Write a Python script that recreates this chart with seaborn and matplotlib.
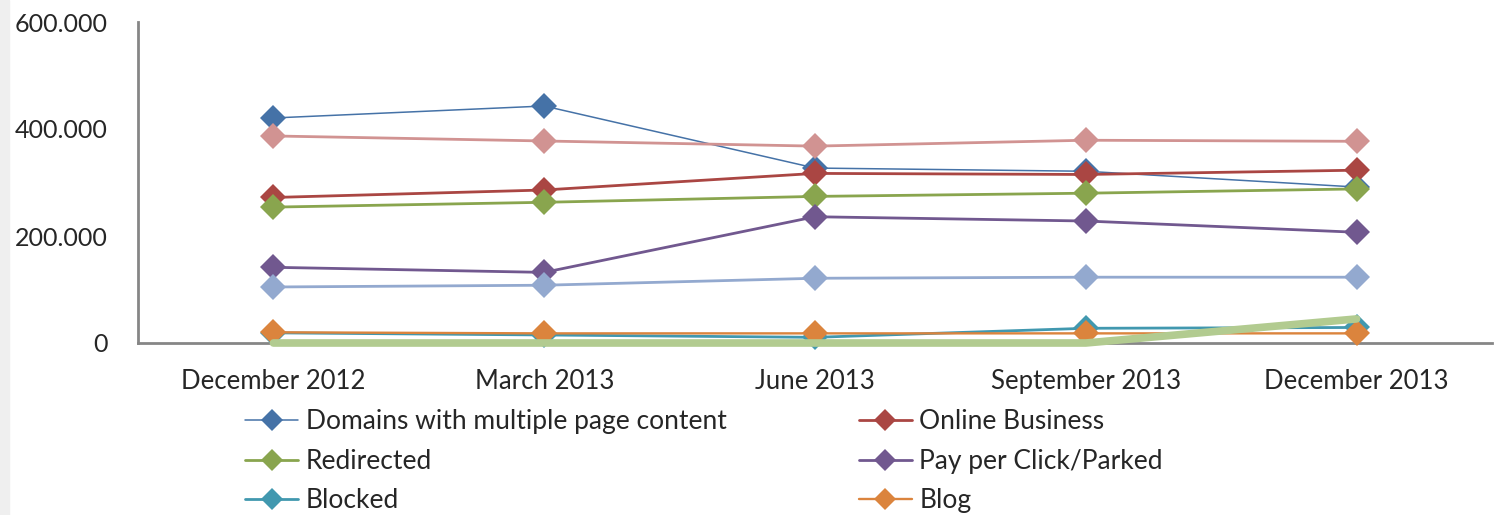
import matplotlib
matplotlib.use("Agg")
import matplotlib.pyplot as plt
import matplotlib.ticker as mticker
from matplotlib.lines import Line2D
from matplotlib.patches import Rectangle
import seaborn as sns

quarters = ["December 2012", "March 2013", "June 2013", "September 2013", "December 2013"]

domains_multi = [420600, 443000, 327000, 321000, 291500]
online_business = [272000, 286000, 317000, 315000, 323000]
redirected = [254000, 263000, 274000, 280000, 288000]
pay_per_click = [141500, 132000, 236000, 228000, 207000]
blocked = [19000, 15000, 10600, 27500, 29000]
blog = [20000, 18000, 18000, 18000, 18000]
series_lightblue = [104700, 108000, 121000, 123000, 123000]
series_pink = [387000, 377600, 368000, 379000, 377000]
series_lightgreen = [0, 0, 0, 0, 45000]

legend_labels = ["Domains with multiple page content", "Online Business", "Redirected",
                 "Pay per Click/Parked", "Blocked", "Blog"]

sns.set_style("white")
plt.rcParams["font.family"] = ["Lato", "DejaVu Sans"]

fig = plt.figure(figsize=(14.94, 5.15), dpi=100)
ax = fig.add_axes([138 / 1494, 1 - 343 / 515, 1354 / 1494, 321 / 515])
fig.patches.append(Rectangle((0, 0), 9 / 1494, 1, transform=fig.transFigure,
                             color="#efefef", zorder=0))

x = list(range(len(quarters)))
# (values, colour, line width, marker)
styles = [
    (domains_multi, "#4572A7", 1.1, "D"),
    (online_business, "#AA4643", 2.0, "D"),
    (redirected, "#89A54E", 2.0, "D"),
    (pay_per_click, "#71588F", 2.0, "D"),
    (blocked, "#4198AF", 2.0, "D"),
    (blog, "#DB843D", 1.7, "D"),
    (series_lightblue, "#93A9CF", 2.0, "D"),
    (series_pink, "#D19392", 2.0, "D"),
    (series_lightgreen, "#B2CB90", 5.5, None),
]
for i, (vals, col, lw, mk) in enumerate(styles):
    sns.lineplot(x=x, y=vals, ax=ax, color=col, linewidth=lw, marker=mk,
                 markersize=13, markeredgewidth=0, sort=False, zorder=3 + i,
                 legend=False, clip_on=False)

ax.set_xlim(-0.5, 4.5)
ax.set_ylim(0, 600000)
ax.yaxis.set_major_locator(mticker.MultipleLocator(200000))
ax.yaxis.set_major_formatter(mticker.FuncFormatter(
    lambda v, p: "0" if v == 0 else f"{int(v):,}".replace(",", ".")))
ax.set_xticks(x)
ax.set_xticklabels(quarters)
ax.set_xticks([i - 0.5 for i in range(len(quarters) + 1)], minor=True)
ax.tick_params(axis="x", which="major", length=0, pad=19, labelsize=18.5)
ax.tick_params(axis="x", which="minor", length=6, width=1.5, color="#868686",
               direction="out")
ax.tick_params(axis="y", which="major", length=0, pad=22, labelsize=18)
for side in ["top", "right"]:
    ax.spines[side].set_visible(False)
for side in ["left", "bottom"]:
    ax.spines[side].set_color("#868686")
    ax.spines[side].set_linewidth(2)
    ax.spines[side].set_zorder(2)
ax.set_xlabel("")
ax.set_ylabel("")

# legend fills column-first, so reorder to read row by row like the original
order = [0, 2, 4, 1, 3, 5]
handles = [Line2D([], [], color=styles[k][1], linewidth=styles[k][2], marker="D",
                  markersize=11, markeredgewidth=0) for k in order]
labels = [legend_labels[k] for k in order]
fig.legend(handles, labels, ncol=2, loc="upper left",
           bbox_to_anchor=(240 / 1494, 1 - 404 / 515), frameon=False,
           fontsize=19, handlelength=2.0, handletextpad=0.3,
           columnspacing=5.0, labelspacing=0.55, borderaxespad=0, borderpad=0.2)

fig.savefig("out.png", dpi=100)
